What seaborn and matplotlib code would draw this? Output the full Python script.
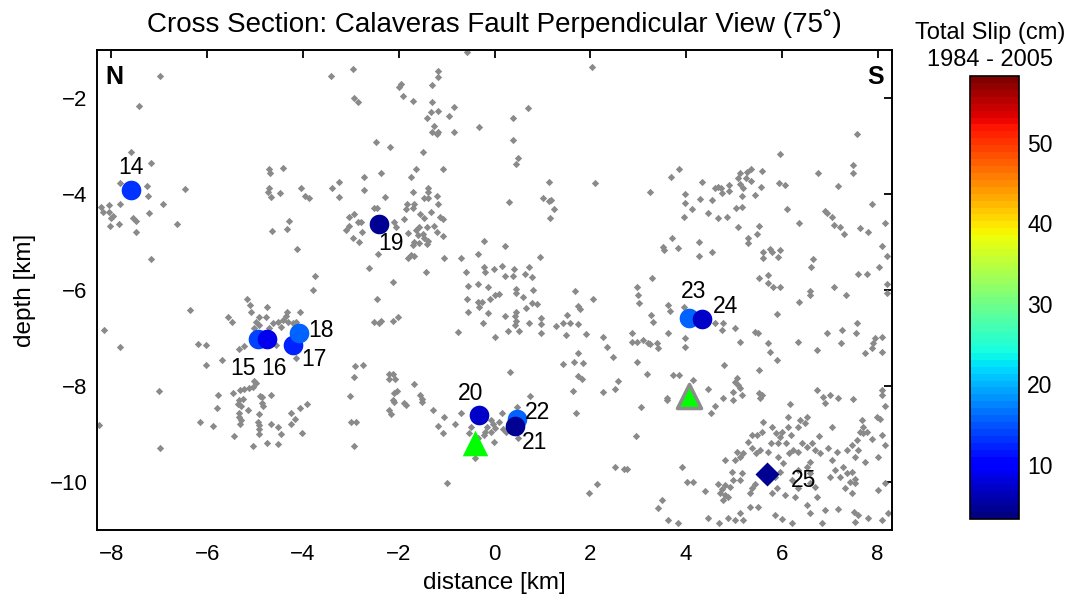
import numpy as np
import pandas as pd
import matplotlib
matplotlib.use("Agg")
import matplotlib.pyplot as plt
import seaborn as sns
from matplotlib.colors import Normalize
from matplotlib.cm import ScalarMappable

# Background microseismicity projected onto the section (distance km, depth km)
quake_xy = [
    (-6.98, -1.54), (-7.42, -2.17), (-7.60, -3.13), (-7.17, -3.35), (-7.83, -3.77),
    (-7.25, -3.83), (-7.23, -4.04), (-6.46, -3.90), (-6.92, -4.21), (-8.21, -4.27),
    (-8.17, -4.38), (-8.04, -4.23), (-8.04, -4.38), (-7.96, -4.46), (-8.00, -4.50),
    (-7.83, -4.21), (-8.02, -4.67), (-7.85, -4.63), (-7.54, -4.50), (-7.48, -4.56),
    (-7.48, -4.79), (-7.21, -4.40), (-6.63, -4.63), (-7.17, -5.35), (-3.42, -1.54),
    (-2.96, -1.40), (-2.94, -2.00), (-2.85, -2.08), (-4.71, -3.48), (-4.69, -3.56),
    (-4.42, -3.46), (-4.71, -3.88), (-4.73, -3.96), (-4.67, -4.06), (-4.48, -3.98),
    (-4.04, -3.88), (-3.96, -4.04), (-3.88, -4.08), (-3.40, -3.88), (-3.25, -3.75),
    (-3.25, -4.06), (-2.73, -3.65), (-2.73, -3.92), (-4.29, -4.56), (-4.65, -4.77),
    (-4.33, -4.73), (-4.13, -5.15), (-3.75, -5.71), (-3.04, -4.48), (-2.94, -4.42),
    (-3.04, -4.67), (-3.10, -4.75), (-2.85, -4.58), (-2.79, -4.58), (-2.96, -4.92),
    (-2.83, -5.00), (-2.77, -4.79),
    (-0.58, -1.04), (-1.17, -1.44), (-1.19, -1.56), (-1.31, -1.73), (-1.96, -1.71),
    (-2.00, -1.77), (-1.92, -1.96), (-1.71, -2.06), (-1.31, -2.08), (-1.33, -2.29),
    (-1.19, -2.27), (-0.85, -2.19), (-0.96, -2.38), (-1.42, -2.42), (-1.27, -2.58),
    (-1.31, -2.71), (-1.19, -2.71), (-1.21, -2.75), (-0.85, -2.71), (-0.33, -2.60),
    (0.38, -2.42), (0.69, -2.21), (0.38, -2.88), (0.50, -3.25), (0.44, -3.38),
    (2.04, -1.35), (2.10, -3.77), (1.13, -3.75), (1.02, -4.08), (1.13, -4.15),
    (1.17, -4.13), (1.25, -4.31), (1.15, -4.50), (0.31, -4.17), (-2.48, -2.92),
    (-2.19, -3.02), (-1.50, -3.13), (-1.63, -3.48), (-1.08, -3.48), (-2.38, -3.56),
    (-1.75, -3.65), (-2.29, -4.06), (-1.71, -3.96), (-1.38, -3.88), (-1.38, -3.96),
    (-1.48, -4.08), (-1.38, -4.08), (-1.21, -4.04), (-1.19, -4.21), (-2.52, -4.29),
    (-2.46, -4.29), (-1.83, -4.21), (-1.85, -4.31), (-1.69, -4.21), (-1.71, -4.29),
    (-1.33, -4.38), (-1.13, -4.48), (-1.08, -4.52), (-1.56, -4.42), (-1.48, -4.50),
    (-1.90, -4.52), (-2.10, -4.58), (-2.06, -4.69), (-1.58, -4.69), (-1.40, -4.69),
    (-1.27, -4.67), (-1.21, -4.79), (-1.65, -4.75), (-1.60, -4.85), (-1.50, -4.83),
    (-1.48, -4.92), (-1.38, -4.98), (-1.69, -5.00), (-1.58, -5.02), (-1.40, -5.04),
    (-1.08, -4.88), (-1.81, -4.81), (-1.71, -5.06), (-1.75, -5.27), (-1.81, -5.33),
    (-1.69, -5.29), (-2.44, -5.25), (-2.63, -5.54), (-1.44, -5.63), (-1.06, -5.33),
    (-0.71, -5.33), (-0.60, -5.63), (-0.35, -5.25), (-0.23, -4.98), (0.21, -5.08),
    (-0.23, -5.52), (-0.19, -5.63), (-0.02, -5.56), (0.15, -5.50), (0.40, -5.56),
    (0.21, -5.71), (0.38, -5.71), (0.63, -5.67), (0.73, -5.52), (0.79, -5.73),
    (0.94, -5.31),
    (-2.13, -5.83), (-0.56, -5.92), (-0.35, -5.88), (-0.13, -5.94), (0.44, -5.98),
    (0.81, -6.00), (1.69, -6.02), (-2.46, -6.19), (-0.58, -6.19), (-0.35, -6.25),
    (-0.27, -6.25), (-0.10, -6.19), (0.02, -6.10), (0.10, -6.08), (0.44, -6.06),
    (0.60, -6.15), (0.79, -6.27), (0.88, -6.29), (2.06, -6.19), (1.75, -6.33),
    (1.79, -6.40), (-0.56, -6.46), (-0.33, -6.35), (-0.13, -6.48), (0.21, -6.54),
    (0.44, -6.46), (0.42, -6.54), (0.44, -6.65), (0.42, -6.73), (0.65, -6.38),
    (0.71, -6.69), (0.96, -6.58), (0.96, -6.71), (1.29, -6.75), (1.42, -6.69),
    (1.52, -6.52), (1.58, -6.69), (1.75, -6.71), (-2.52, -6.67), (-2.42, -6.69),
    (-2.38, -6.65), (-2.13, -6.65), (-2.02, -6.56), (-0.77, -6.88), (-0.25, -6.69),
    (0.29, -6.85), (0.52, -6.85), (0.96, -6.90), (0.00, -6.98), (1.50, -6.94),
    (1.92, -6.92), (2.27, -6.98), (2.35, -7.19), (2.48, -7.40), (1.75, -7.31),
    (1.65, -7.50), (1.44, -7.54), (1.85, -7.52), (0.33, -7.71), (1.75, -7.79),
    (1.83, -7.85), (2.58, -7.90), (2.52, -8.06), (2.27, -8.13), (1.63, -8.10),
    (-2.21, -7.75), (-2.13, -7.75), (-2.21, -7.85), (-2.08, -7.85), (-2.04, -8.10),
    (-2.10, -8.15), (-2.13, -8.29), (-2.10, -8.33), (-1.90, -8.35), (-1.85, -8.40),
    (-1.69, -7.96), (-1.56, -8.19), (-1.52, -8.27), (-1.52, -8.33), (-2.21, -8.50),
    (-2.17, -8.58), (-1.29, -8.50), (-1.06, -8.65), (-0.71, -8.56), (-1.17, -8.83),
    (-1.08, -8.98), (-0.83, -8.79), (0.75, -8.21), (0.46, -8.44), (0.15, -8.56),
    (-0.08, -8.71), (-0.04, -8.79), (0.02, -8.88), (-0.15, -8.85), (-0.19, -8.96),
    (-0.08, -8.96), (0.10, -8.75), (0.17, -8.90), (0.23, -8.96), (-0.23, -9.02),
    (-0.50, -8.85), (-0.54, -8.98), (-0.35, -9.08), (-0.02, -9.17), (0.48, -9.08),
    (-0.40, -9.50), (-1.00, -10.02), (1.71, -8.56), (2.52, -9.69), (2.71, -9.73),
    (2.13, -10.04), (1.98, -10.23),
    (-3.79, -6.00), (-5.17, -6.19), (-5.10, -6.31), (-4.75, -6.35), (-6.35, -6.42),
    (-5.08, -6.46), (-4.92, -6.56), (-4.77, -6.56), (-4.33, -6.46), (-4.06, -6.46),
    (-4.35, -6.54), (-5.56, -6.56), (-5.48, -6.67), (-4.98, -6.67), (-4.92, -6.73),
    (-4.63, -6.69), (-4.52, -6.67), (-4.42, -6.63), (-4.31, -6.67), (-4.21, -6.69),
    (-4.46, -6.77), (-4.15, -6.67), (-4.71, -6.79), (-5.02, -6.79), (-8.15, -6.83),
    (-7.83, -7.19), (-6.19, -7.13), (-6.02, -7.15), (-4.56, -7.15), (-5.33, -7.23),
    (-5.23, -7.17), (-5.69, -7.46), (-6.02, -7.56), (-4.15, -7.42), (-2.92, -7.58),
    (-2.75, -7.56), (-2.94, -7.81), (-5.02, -7.90), (-4.98, -7.94), (-7.00, -8.10),
    (-5.31, -8.08), (-5.23, -8.06), (-5.13, -8.04), (-5.04, -8.02), (-5.77, -8.19),
    (-5.46, -8.15), (-4.90, -8.21), (-4.85, -8.23), (-4.67, -8.19), (-5.33, -8.29),
    (-5.25, -8.27), (-5.35, -8.38), (-5.29, -8.42), (-4.85, -8.35), (-4.83, -8.42),
    (-5.79, -8.46), (-5.15, -8.50), (-5.33, -8.56), (-4.92, -8.58), (-4.25, -8.56),
    (-4.06, -8.46), (-3.92, -8.38), (-3.02, -8.21), (-5.33, -8.65), (-5.29, -8.71),
    (-4.94, -8.75), (-4.92, -8.81), (-4.17, -8.69), (-4.25, -8.79), (-4.67, -8.79),
    (-4.52, -8.85), (-8.25, -8.81), (-6.15, -8.75), (-5.88, -8.83), (-5.31, -8.79),
    (-4.92, -8.90), (-4.92, -9.00), (-4.46, -9.00), (-4.02, -8.98), (-3.00, -8.75),
    (-2.90, -8.75), (-5.44, -9.04), (-4.75, -9.19), (-5.04, -9.25), (-4.52, -9.21),
    (-2.94, -9.25), (-6.98, -9.29),
    (7.56, -2.75), (5.96, -3.17), (7.48, -3.40), (7.48, -3.56), (6.75, -3.56),
    (7.17, -3.83), (7.88, -4.21), (3.85, -3.48), (3.69, -3.65), (3.25, -3.96),
    (3.98, -4.00), (4.33, -3.75), (4.60, -3.88), (4.67, -3.85), (4.75, -3.98),
    (4.73, -3.88), (4.90, -3.81), (4.90, -3.94), (5.08, -3.67), (5.13, -3.56),
    (5.25, -3.67), (5.27, -3.54), (5.35, -3.48), (5.35, -3.73), (5.13, -3.79),
    (5.19, -3.88), (5.58, -3.52), (5.56, -3.85), (5.94, -3.77), (6.06, -3.81),
    (5.17, -4.04), (5.44, -4.02), (3.98, -4.19), (4.13, -4.31), (4.29, -4.10),
    (4.54, -4.13), (3.96, -4.48), (4.46, -4.40), (4.67, -4.50), (4.85, -4.48),
    (5.04, -4.29), (5.17, -4.27), (6.10, -4.31), (6.35, -4.60), (6.90, -4.35),
    (6.94, -4.40), (7.04, -4.48), (7.08, -4.65), (7.21, -4.69), (7.29, -4.83),
    (7.63, -4.71), (7.79, -4.79), (8.15, -4.60), (5.08, -4.69), (5.52, -4.67),
    (5.29, -4.92), (5.29, -5.02), (5.48, -4.83), (3.71, -4.92), (3.52, -5.10),
    (3.54, -5.17), (3.83, -5.13), (4.27, -5.00), (4.27, -5.29), (4.54, -5.21),
    (5.60, -5.21), (5.75, -5.15), (5.79, -5.21), (5.96, -5.17), (5.60, -5.33),
    (5.92, -5.31), (6.65, -5.35), (6.60, -5.52), (8.08, -5.08), (8.19, -5.29),
    (8.02, -5.52), (7.58, -5.67), (7.77, -5.67), (3.29, -5.75), (5.52, -5.75),
    (5.71, -5.69),
    (2.98, -5.94), (3.00, -6.10), (3.02, -6.27), (3.63, -6.31), (3.67, -6.44),
    (3.96, -6.35), (3.27, -6.52), (3.31, -6.67), (5.71, -5.85), (5.81, -5.94),
    (5.96, -5.94), (6.58, -6.02), (6.58, -6.10), (7.08, -5.94), (7.33, -6.10),
    (8.19, -5.88), (8.19, -6.06), (6.35, -6.25), (5.90, -6.50), (4.60, -6.69),
    (4.77, -6.69), (3.63, -6.90), (2.88, -6.90), (2.88, -7.08), (2.98, -7.08),
    (3.10, -7.04), (3.21, -7.10), (3.25, -7.13), (3.40, -7.10), (3.42, -7.21),
    (3.98, -7.00), (3.98, -7.19), (4.75, -6.83), (5.02, -6.79), (5.13, -7.08),
    (5.44, -6.88), (5.50, -6.90), (5.71, -7.10), (5.75, -7.29), (5.90, -7.46),
    (6.33, -7.08), (6.73, -7.25), (6.94, -6.90), (7.25, -6.83), (7.23, -7.10),
    (7.54, -6.90), (7.56, -6.69), (7.90, -7.10), (7.94, -7.00), (8.10, -6.98),
    (7.88, -7.21), (7.73, -7.31), (8.08, -7.29), (2.98, -7.50), (3.19, -7.75),
    (3.73, -7.77), (3.85, -7.77), (4.15, -7.88), (4.46, -8.06), (4.79, -7.56),
    (5.06, -7.83), (5.08, -7.98), (5.13, -8.04), (5.02, -7.92), (5.17, -8.19),
    (4.98, -8.13), (5.52, -7.67), (5.52, -8.15), (5.58, -8.19), (5.54, -8.25),
    (4.77, -8.25), (4.60, -8.42), (4.52, -8.56), (4.98, -8.29), (3.60, -8.25),
    (3.60, -8.29), (3.06, -8.44), (2.96, -9.04), (6.17, -8.38), (6.73, -8.08),
    (6.85, -8.23), (7.00, -8.19), (7.17, -8.25), (7.48, -8.27), (6.90, -8.35),
    (8.10, -8.08), (8.10, -8.19), (8.15, -8.42), (7.98, -8.65), (8.04, -8.69),
    (7.67, -8.71), (7.69, -8.85), (7.63, -8.96), (7.69, -8.98), (7.77, -8.96),
    (7.04, -8.85), (6.77, -9.04), (6.52, -8.65), (6.48, -8.77), (6.38, -8.71),
    (6.33, -8.85), (6.13, -8.65), (6.13, -8.85), (6.19, -9.02), (6.00, -8.96),
    (5.88, -8.98), (5.79, -8.85), (5.60, -8.75), (5.58, -8.96), (5.48, -9.02),
    (5.38, -9.02), (5.29, -9.17), (5.19, -9.40), (5.06, -9.38), (5.13, -9.48),
    (5.38, -9.29), (5.46, -9.40), (5.54, -9.33), (5.71, -9.38), (5.77, -9.19),
    (5.92, -9.19), (5.96, -9.06), (6.08, -9.19), (6.15, -9.40), (6.23, -9.33),
    (6.33, -9.38), (6.42, -9.19), (6.52, -9.27), (6.63, -9.19), (6.69, -9.33),
    (6.79, -9.40), (6.96, -9.29), (7.15, -9.38), (7.35, -9.33), (7.46, -9.23),
    (7.56, -9.13), (7.58, -9.33), (7.52, -9.48), (7.88, -9.10), (8.10, -9.02),
    (8.15, -9.23), (8.00, -9.48), (7.73, -9.58), (7.27, -9.69), (7.35, -9.81),
    (7.46, -9.79), (7.21, -9.90), (7.42, -10.00), (7.52, -9.94), (7.31, -10.13),
    (7.52, -10.02), (7.46, -10.23), (7.10, -9.75), (7.04, -9.54), (6.58, -9.58),
    (6.52, -9.69), (6.58, -9.81), (6.33, -9.75), (6.21, -9.96), (6.33, -10.13),
    (6.69, -10.10), (6.73, -10.31), (6.90, -10.58), (7.17, -10.56), (7.50, -10.63),
    (7.58, -10.69), (7.52, -10.83), (7.79, -10.75), (8.21, -10.65), (8.10, -10.79),
    (8.00, -10.17), (8.15, -10.02), (5.92, -9.48), (6.02, -9.60), (5.96, -9.79),
    (5.85, -9.90), (5.90, -10.13), (5.65, -9.96), (5.44, -10.04), (5.38, -10.13),
    (5.33, -10.23), (5.13, -9.96), (5.17, -9.81), (4.96, -9.79), (5.02, -9.54),
    (4.98, -9.96), (4.92, -10.10), (4.81, -10.06), (4.75, -10.15), (4.71, -10.23),
    (4.81, -10.27), (4.77, -10.38), (4.88, -10.31), (4.67, -10.04), (4.81, -9.54),
    (4.40, -10.19), (4.02, -10.00), (4.15, -10.00), (3.92, -9.69), (3.50, -10.38),
    (3.42, -10.54), (2.77, -9.73), (5.79, -10.23), (6.06, -10.27), (6.27, -10.31),
    (5.50, -10.52), (5.33, -10.52), (5.13, -10.65), (4.88, -10.75), (5.02, -10.79),
    (5.19, -10.79), (4.69, -10.85), (5.85, -10.69), (6.00, -10.77), (6.52, -10.48),
    (6.58, -10.65), (6.21, -10.85), (6.83, -10.85), (3.83, -10.85), (3.63, -10.79),
    (4.46, -10.75), (6.58, -10.02), (7.00, -9.90),
]
quake_x, quake_y = np.array(quake_xy).T

# Repeating earthquake sequences: id, position and cumulative slip (cm)
seq_id = ["14", "15", "16", "17", "18", "19", "20", "22", "21", "23", "24"]
seq_x = [-7.60, -4.94, -4.75, -4.21, -4.08, -2.42, -0.33, 0.46, 0.42, 4.06, 4.33]
seq_y = [-3.92, -7.02, -7.02, -7.15, -6.90, -4.63, -8.60, -8.69, -8.83, -6.58, -6.60]
seq_slip = [13.5, 14.0, 8.5, 12.5, 15.5, 4.5, 7.5, 15.5, 4.8, 16.0, 7.5]

# Sequence 25 (drawn as a diamond)
d25_x, d25_y, d25_slip = [5.69], [-9.83], [4.5]

# Mainshock hypocentres
tri_x = [-0.40, 4.06]
tri_y = [-9.19, -8.20]

# Label offsets (points) for sequence ids
label_off = {
    "14": (0, 16), "15": (-11, -21), "16": (5, -21), "17": (15, -10),
    "18": (16, 2), "19": (9, -14), "20": (-6, 15), "21": (14, -12),
    "22": (15, 5), "23": (3, 19), "24": (17, 9), "25": (26, -5),
}

slip_min, slip_max = 3.3, 58.3
x_ticks = [-8, -6, -4, -2, 0, 2, 4, 6, 8]
y_ticks = [-10, -8, -6, -4, -2]
cbar_ticks = [10, 20, 30, 40, 50]

sns.set_theme(style="white")
plt.rcParams["font.family"] = ["Liberation Sans", "DejaVu Sans"]
plt.rcParams["axes.unicode_minus"] = True
for key in ("text.color", "axes.labelcolor", "xtick.color", "ytick.color",
            "axes.edgecolor"):
    plt.rcParams[key] = "black"

cmap = plt.get_cmap("jet", 64)
norm = Normalize(vmin=slip_min, vmax=slip_max)

fig = plt.figure(figsize=(10.78, 6.06), dpi=100)
ax = fig.add_axes([0.0900, 0.1254, 0.7375, 0.7921])

bg = pd.DataFrame({"x": quake_x, "y": quake_y})
sns.scatterplot(data=bg, x="x", y="y", ax=ax, marker="D", s=14,
                color="#8a8a8a", linewidth=0, zorder=2)

seq = pd.DataFrame({"x": seq_x, "y": seq_y, "slip": seq_slip, "id": seq_id})
for i in range(len(seq)):
    sns.scatterplot(data=seq.iloc[[i]], x="x", y="y", hue="slip", palette=cmap,
                    hue_norm=norm, s=200, linewidth=0, legend=False, ax=ax,
                    zorder=4 + i * 0.01)

d25 = pd.DataFrame({"x": d25_x, "y": d25_y, "slip": d25_slip})
sns.scatterplot(data=d25, x="x", y="y", hue="slip", palette=cmap, hue_norm=norm,
                marker="D", s=150, linewidth=0, legend=False, ax=ax, zorder=4)

sns.scatterplot(x=tri_x[:1], y=tri_y[:1], marker="^", s=340, color="#00ff00",
                linewidth=0, ax=ax, zorder=5)
sns.scatterplot(x=tri_x[1:], y=tri_y[1:], marker="^", s=300, color="#00ff00",
                edgecolor="#8c8c8c", linewidth=2.5, ax=ax, zorder=5)

for sid, sx, sy in list(zip(seq_id, seq_x, seq_y)) + [("25", d25_x[0], d25_y[0])]:
    dx, dy = label_off[sid]
    ax.annotate(sid, (sx, sy), xytext=(dx, dy), textcoords="offset points",
                ha="center", va="center", fontsize=16.5, color="black", zorder=6)

ax.text(0.010, 0.968, "N", transform=ax.transAxes, ha="left", va="top",
        fontsize=18, fontweight="bold")
ax.text(0.990, 0.968, "S", transform=ax.transAxes, ha="right", va="top",
        fontsize=18, fontweight="bold")

ax.set_xlim(-8.3, 8.3)
ax.set_ylim(-11, -1)
ax.set_xticks(x_ticks)
ax.set_yticks(y_ticks)
ax.tick_params(direction="in", length=6, width=1.3, top=True, right=True,
               labelsize=16, color="black")
ax.tick_params(axis="x", pad=10)
ax.tick_params(axis="y", pad=7)
for sp in ax.spines.values():
    sp.set_color("black")
    sp.set_linewidth(1.4)
ax.set_xlabel("distance [km]", fontsize=17.5, labelpad=5)
ax.set_ylabel("depth [km]", fontsize=17.5, labelpad=10)
ax.grid(False)

fig.text(0.4587, 1 - 24 / 606,
         "Cross Section: Calaveras Fault Perpendicular View (75\u02da)",
         ha="center", va="center", fontsize=20)

cax = fig.add_axes([0.8998, 0.1436, 0.0455, 0.7310])
sm = ScalarMappable(norm=norm, cmap=cmap)
cb = fig.colorbar(sm, cax=cax, ticks=cbar_ticks)
cb.outline.set_linewidth(1.2)
cb.outline.set_edgecolor("black")
cax.tick_params(direction="in", length=5, width=1.2, left=True, right=True,
                labelsize=16.5, pad=6, color="black")
fig.text(0.9185, 1 - 33 / 606, "Total Slip (cm)", ha="center", va="center",
         fontsize=17)
fig.text(0.9185, 1 - 60 / 606, "1984 - 2005", ha="center", va="center",
         fontsize=17)

fig.savefig("out.png", dpi=100)
